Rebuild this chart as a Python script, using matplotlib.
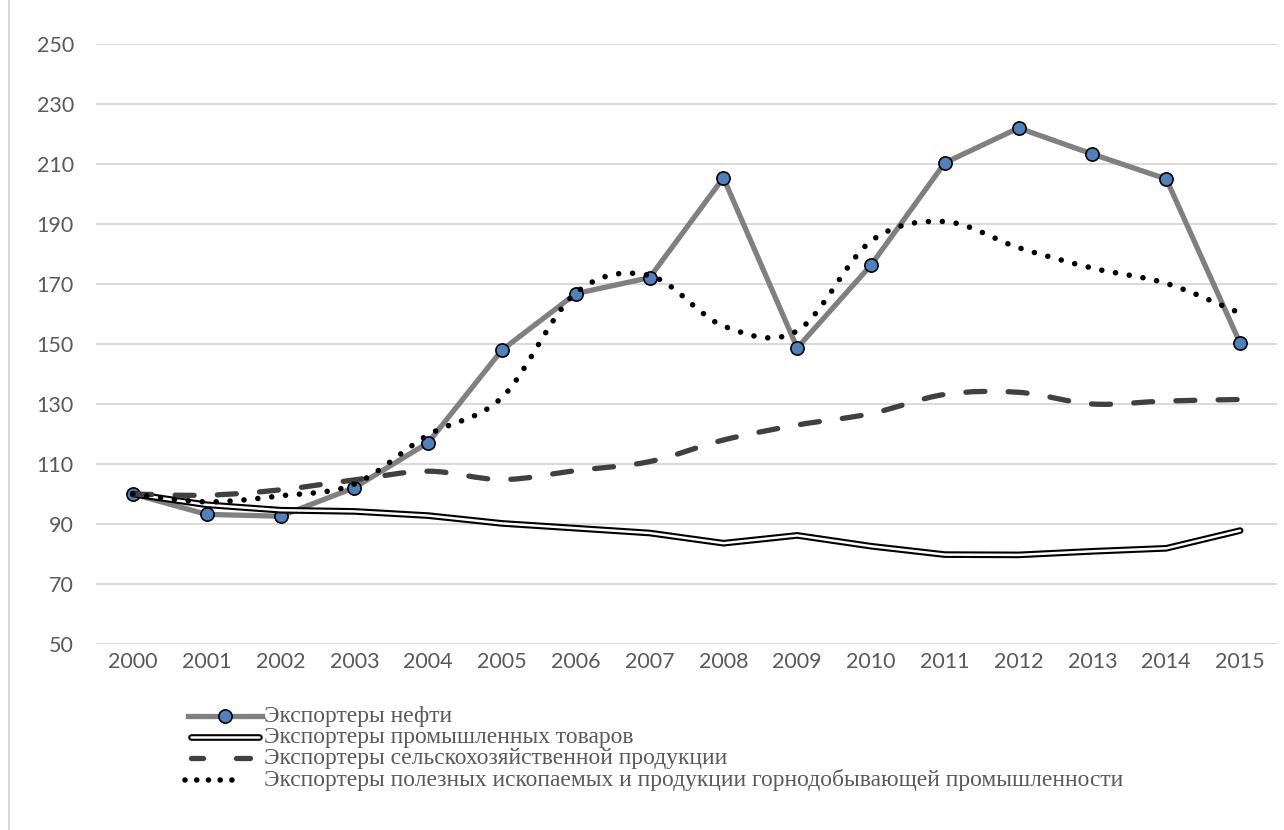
import matplotlib
matplotlib.use("Agg")
import matplotlib.pyplot as plt
from matplotlib.path import Path
from matplotlib.patches import PathPatch
from matplotlib.lines import Line2D
from matplotlib.font_manager import FontProperties
import numpy as np

plt.rcParams['font.serif'] = ['Liberation Serif', 'DejaVu Serif']

years = [str(y) for y in range(2000, 2016)]
oil = [100, 93.2, 92.6, 102.1, 117.1, 148, 166.8, 172.1, 205.4, 148.7, 176.3, 210.4, 222, 213.3, 205, 150.3]
industrial = [100, 96.4, 94.6, 94.2, 92.8, 90.2, 88.6, 87.0, 83.6, 86.2, 82.6, 79.8, 79.7, 80.9, 81.9, 87.8]
agri = [100, 99.6, 101.4, 104.7, 107.6, 104.8, 107.8, 110.8, 118.0, 123.0, 126.8, 133.2, 133.9, 130.0, 131.0, 131.5]
mining = [100, 97.4, 99.4, 103.3, 119.7, 132.2, 167.0, 172.8, 156.0, 154.4, 184.3, 190.8, 182.1, 175.3, 170.2, 160.3]
yticks = list(range(50, 251, 20))

labels = ["Экспортеры нефти",
          "Экспортеры промышленных товаров",
          "Экспортеры сельскохозяйственной продукции",
          "Экспортеры полезных ископаемых и продукции горнодобывающей промышленности"]

W, H = 1284, 830
fig = plt.figure(figsize=(W / 100, H / 100), dpi=100)
ax = fig.add_axes([96 / W, 1 - 644 / H, (1277 - 96) / W, (644 - 44) / H])

x = np.arange(len(years))


def smooth_path(xs, ys):
    pts = np.column_stack([xs, ys]).astype(float)
    n = len(pts)
    verts = [pts[0]]
    codes = [Path.MOVETO]
    for i in range(n - 1):
        p0 = pts[i - 1] if i > 0 else pts[i]
        p1 = pts[i]
        p2 = pts[i + 1]
        p3 = pts[i + 2] if i + 2 < n else pts[i + 1]
        c1 = p1 + (p2 - p0) / 6.0
        c2 = p2 - (p3 - p1) / 6.0
        verts += [c1, c2, p2]
        codes += [Path.CURVE4] * 3
    return Path(verts, codes)


GRID = "#d9d9d9"
TXT = "#595959"
MS = 9.5

# oil exporters
ax.plot(x, oil, color="#808080", lw=3.8, marker="o", markersize=MS,
        markerfacecolor="#4F81BD", markeredgecolor="black", markeredgewidth=1.2,
        zorder=3, clip_on=False)

# industrial (double line)
ax.plot(x, industrial, color="black", lw=4.8, zorder=4, solid_capstyle="round",
        solid_joinstyle="round")
ax.plot(x, industrial, color="white", lw=1.8, zorder=4.1, solid_capstyle="round",
        solid_joinstyle="round")

# agricultural (smoothed, dashed)
pa = PathPatch(smooth_path(x, agri), fill=False, edgecolor="#404040", lw=3.8,
               linestyle=(0, (3.6, 4.4)), zorder=5)
pa.set_capstyle("round")
ax.add_patch(pa)

# mining (smoothed, dotted)
pm = PathPatch(smooth_path(x, mining), fill=False, edgecolor="black", lw=4.0,
               linestyle=(0, (0.01, 2.5)), zorder=6)
pm.set_capstyle("round")
ax.add_patch(pm)

ax.set_xlim(-0.5, len(years) - 0.5)
ax.set_ylim(50, 250)
ax.set_yticks(yticks)
ax.set_xticks(x)
ax.set_xticklabels(years)
for s in ax.spines.values():
    s.set_visible(False)
ax.grid(axis="y", color=GRID, lw=1.4, zorder=0)
ax.set_axisbelow(True)
ax.tick_params(length=0, labelsize=15.5, labelcolor=TXT)
ax.tick_params(axis="y", pad=16)
ax.tick_params(axis="x", pad=6)
for t in ax.get_xticklabels() + ax.get_yticklabels():
    t.set_fontfamily("Lato")

# legend drawn manually
def fx(px):
    return px / W


def fy(py):
    return 1 - py / H


rows = [716, 737, 758, 780]
# oil
fig.add_artist(Line2D([fx(188), fx(262)], [fy(rows[0])] * 2, color="#808080", lw=3.8))
fig.add_artist(Line2D([fx(225)], [fy(rows[0])], marker="o", markersize=MS,
                      markerfacecolor="#4F81BD", markeredgecolor="black",
                      markeredgewidth=1.2, lw=0))
# industrial
fig.add_artist(Line2D([fx(191), fx(259)], [fy(rows[1])] * 2, color="black", lw=4.8,
                      solid_capstyle="round"))
fig.add_artist(Line2D([fx(191), fx(259)], [fy(rows[1])] * 2, color="white", lw=1.8,
                      solid_capstyle="round"))
# agri (two dashes)
for a, b in [(191, 203), (236, 250)]:
    fig.add_artist(Line2D([fx(a), fx(b)], [fy(rows[2])] * 2, color="#404040", lw=3.8,
                          solid_capstyle="round"))
# mining
fig.add_artist(Line2D([fx(185), fx(236)], [fy(rows[3])] * 2, color="black", lw=4.0,
                      linestyle=(0, (0.01, 2.1)), dash_capstyle="round"))

fp = FontProperties(family="serif", size=16.9)
for r, lab in zip(rows, labels):
    fig.text(fx(264), fy(r), lab, fontproperties=fp,
             color=TXT, va="center", ha="left")

# chart area border (left edge)
fig.add_artist(Line2D([fx(8.5), fx(8.5)], [0, 1], color=GRID, lw=1.5))

fig.savefig("out.png", dpi=100)
